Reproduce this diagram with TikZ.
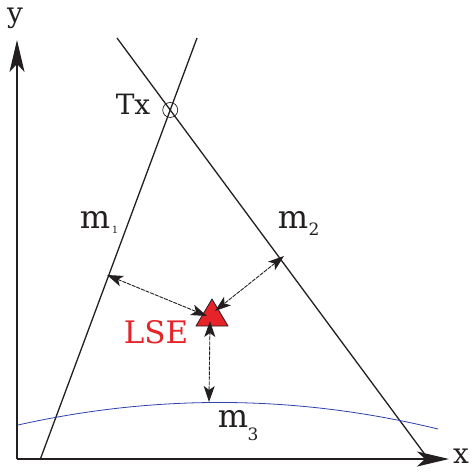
\documentclass[tikz,border=0pt]{standalone}
\usepackage{fontspec}
\setmainfont{DejaVu Serif}
\usetikzlibrary{arrows.meta,calc,intersections}
\definecolor{ink}{RGB}{35,31,32}
\definecolor{curveblue}{RGB}{45,65,170}
\definecolor{lsered}{RGB}{230,35,40}
\begin{document}
\begin{tikzpicture}[x=1pt,y=-1pt,
  axis/.style={draw=ink,line width=2pt,-{Stealth[length=32pt,width=15pt,inset=8pt]}},
  mline/.style={draw=ink,line width=1.3pt},
  darr/.style={draw=ink,line width=0.9pt,dash pattern=on 4pt off 1pt,{Stealth[length=16pt,width=11pt,inset=4pt]}-{Stealth[length=16pt,width=11pt,inset=4pt]}},
  lbl/.style={text=ink,inner sep=0pt,font=\fontsize{32}{32}\selectfont},
  sub/.style={text=ink,inner sep=0pt,font=\fontsize{17}{17}\selectfont}]
\useasboundingbox (0,0) rectangle (473,473);
% axes
\coordinate (O) at (17,459);
\coordinate (Y) at (17,40);
\coordinate (X) at (449,459);
\draw[axis] (O) -- (Y);
\draw[axis] (O) -- (X);
\node[lbl,font=\fontsize{28}{28}\selectfont] (ylab) at (15,18) {y};
\node[lbl,font=\fontsize{28}{28}\selectfont] (xlab) at (461,456) {x};
% lines m1, m2
\coordinate (m1a) at (40,460);
\coordinate (m1b) at (197,38);
\coordinate (m2a) at (117,38);
\coordinate (m2b) at (429,460);
\draw[mline,name path=L1] (m1a) -- (m1b);
\draw[mline,name path=L2] (m2a) -- (m2b);
\path[name intersections={of=L1 and L2,by=TxP}];
\node[draw=ink,circle,line width=0.7pt,minimum size=15pt,inner sep=0pt] (tx) at (TxP) {};
\node[lbl,font=\fontsize{28}{28}\selectfont] (txlab) at (133,104) {Tx};
% curve m3
\coordinate (c3a) at (18,425);
\coordinate (c3c) at (158,393.7);
\coordinate (c3d) at (298,395);
\coordinate (c3b) at (438,429);
\draw[curveblue,line width=0.8pt] (c3a) .. controls (c3c) and (c3d) .. (c3b);
% labels
\node[lbl] (m1lab) at (95,220) {m};
\node[sub,font=\fontsize{10}{10}\selectfont] (m1sub) at (115,230) {1};
\node[lbl] (m2lab) at (293,220) {m};
\node[sub] (m2sub) at (314,229) {2};
\node[lbl] (m3lab) at (233,419) {m};
\node[sub] (m3sub) at (253,434) {3};
\node[text=lsered,inner sep=0pt,font=\fontsize{31}{31}\selectfont] (lselab) at (156,332) {LSE};
% triangle
\coordinate (t1) at (212,299);
\coordinate (t2) at (196,326);
\coordinate (t3) at (228,326);
\filldraw[fill=lsered,draw=ink,line width=0.8pt,line join=round] (t1) -- (t2) -- (t3) -- cycle;
% arrows
\coordinate (p1) at (107,275);
\coordinate (p2) at (284,256);
\coordinate (p3) at (209,402);
\coordinate (q1) at (207,316);
\coordinate (q2) at (215,311);
\coordinate (q3) at (210,321);
\draw[darr] (p1) -- (q1);
\draw[darr] (p2) -- (q2);
\draw[darr] (p3) -- (q3);
\end{tikzpicture}
\end{document}
